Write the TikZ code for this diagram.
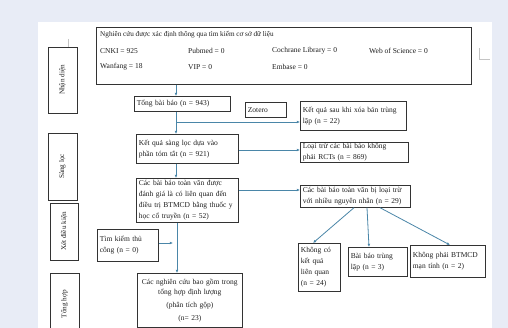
\documentclass[tikz,border=0pt]{standalone}
\usepackage{fontspec}
\setmainfont{Liberation Serif}
\usetikzlibrary{arrows.meta}
\definecolor{bgc}{HTML}{E8ECF6}
\definecolor{arr}{HTML}{4A86A8}
\definecolor{markc}{HTML}{C4C4C4}
\definecolor{boxc}{HTML}{333333}
\definecolor{txt}{HTML}{1E1E1E}
\newcommand\fs{\fontsize{7.5}{10.8}\selectfont}
\newcommand\fss{\fontsize{7.2}{10.8}\selectfont}
\begin{document}
\begin{tikzpicture}[x=1pt,y=-1pt,
  box/.style={draw=boxc, line width=0.7pt, anchor=north west, inner xsep=2.5pt, inner ysep=1pt, align=left, font=\fs, text=txt},
  cbox/.style={box, align=center},
  side/.style={draw=boxc, line width=0.7pt, rotate=90, inner sep=0pt, font=\fss, text=txt},
  plain/.style={anchor=west, inner sep=0pt, font=\fs, text=txt},
  link/.style={draw=arr, line width=0.8pt, -{Latex[length=3.2pt,width=2.8pt]}}]
\useasboundingbox (0,0) rectangle (508,328);
\clip (0,0) rectangle (508,328);
\fill[bgc] (0,0) rectangle (508,328);
\fill[white] (38,22) rectangle (492,340);
% page corner marks
\draw[markc, line width=0.8pt] (68,39) -- (68,47);
\draw[markc, line width=0.8pt] (479,48) -- (479,59) -- (490,59);

% database box
\node[draw=boxc, line width=0.7pt, anchor=north west, minimum width=375pt, minimum height=57pt, inner sep=0pt] (db) at (96,27) {};
\node[plain, font=\fss] (t0) at (100,35) {Nghiên cứu được xác định thông qua tìm kiếm cơ sở dữ liệu};
\node[plain] (t1) at (100,51) {CNKI = 925};
\node[plain] (t2) at (188,51) {Pubmed = 0};
\node[plain] (t3) at (272,51) {Cochrane Library = 0};
\node[plain] (t4) at (369,51) {Web of Science = 0};
\node[plain] (t5) at (100,67) {Wanfang = 18};
\node[plain] (t6) at (188,67) {VIP = 0};
\node[plain] (t7) at (272,67) {Embase = 0};

% side labels
\node[side, minimum width=66pt, minimum height=29pt] (s1) at (62.5,80) {Nhận diện};
\node[side, minimum width=67pt, minimum height=29pt] (s2) at (62.5,166.5) {Sàng lọc};
\node[side, minimum width=57pt, minimum height=28pt] (s3) at (64,231.5) {Xét điều kiện};
\node[side, minimum width=62pt, minimum height=29pt] (s4) at (64.5,304) {Tổng hợp};

% main boxes
\node[box, text width=91pt, minimum height=15pt] (tong) at (134,96) {Tổng bài báo (n = 943)};
\node[box, text width=36pt, minimum height=15pt] (zot) at (245,102) {Zotero};
\node[box, text width=101pt, minimum height=29pt] (kqsau) at (300,101) {Kết quả sau khi xóa bản trùng\\lặp (n = 22)};
\node[box, text width=97pt, minimum height=29pt] (kqsl) at (136,134) {Kết quả sàng lọc dựa vào\\phần tóm tắt (n = 921)};
\node[box, text width=103pt, minimum height=20pt] (loai) at (300,142) {Loại trừ các bài báo không\\phải RCTs (n = 869)};
\node[box, text width=97pt, minimum height=44pt] (tv) at (136,178) {Các bài báo toàn văn được\\đánh giá là có liên quan đến\\điều trị BTMCD bằng thuốc y\\học cổ truyền (n = 52)};
\node[box, text width=105pt, minimum height=22pt] (excl) at (300,185) {Các bài báo toàn văn bị loại trừ\\với nhiều nguyên nhân (n = 29)};
\node[box, text width=56pt, minimum height=32pt] (tim) at (97,229) {Tìm kiếm thủ\\công (n = 0)};
\node[cbox, text width=100pt, minimum height=54pt] (nc) at (137,273) {Các nghiên cứu bao gồm trong\\tổng hợp định lượng\\[2pt](phân tích gộp)\\[2pt](n= 23)};
\node[box, text width=37pt, minimum height=48pt] (kc) at (298,243) {Không có\\kết quả\\liên quan\\(n = 24)};
\node[box, text width=54pt, minimum height=29pt] (bt) at (348,247) {Bài báo trùng\\lặp (n = 3)};
\node[box, text width=70pt, minimum height=32pt] (kp) at (410,245) {Không phải BTMCD\\mạn tính (n = 2)};

% connectors
\coordinate (sp) at (176,0);
\coordinate (sp2) at (177,0);
\coordinate (br) at (176,122);
\coordinate (r1) at (0,150);
\coordinate (r2) at (0,190);
\coordinate (tk) at (173,243);
\coordinate (e1) at (354,0);
\coordinate (e2) at (367,0);
\coordinate (e3) at (380,0);
\coordinate (f1) at (313,0);
\coordinate (f2) at (369,0);
\coordinate (f3) at (450,0);
\draw[link] (db.south -| sp) -- (tong.north -| sp);
\draw[link] (tong.south -| sp) -- (kqsl.north -| sp);
\draw[link] (br) -- (br -| kqsau.west);
\draw[link] (kqsl.east |- r1) -- (loai.west |- r1);
\draw[link] (kqsl.south -| sp) -- (tv.north -| sp);
\draw[link] (tv.east |- r2) -- (excl.west |- r2);
\draw[link] (tv.south -| sp2) -- (nc.north -| sp2);
\draw[link] (tim.east |- tk) -- (tk);
\draw[link] (excl.south -| e1) -- (kc.north -| f1);
\draw[link] (excl.south -| e2) -- (bt.north -| f2);
\draw[link] (excl.south -| e3) -- (kp.north -| f3);
\end{tikzpicture}
\end{document}
